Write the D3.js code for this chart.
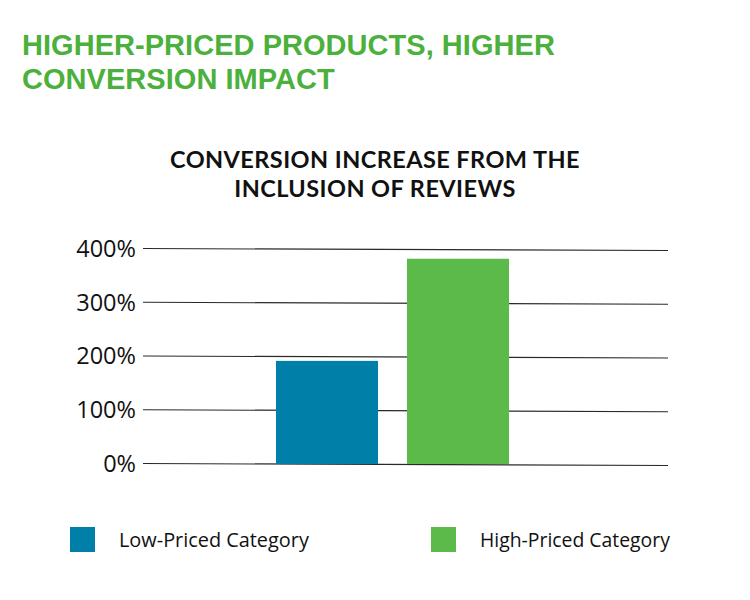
<!DOCTYPE html>
<html><head><meta charset="utf-8">
<script src="https://cdn.jsdelivr.net/npm/d3@7"></script>
<style>html,body{margin:0;padding:0;background:#fff;}svg{display:block;}</style>
</head><body>
<svg id="chart" width="750" height="600"></svg>
<script>
const titleLines = ["HIGHER-PRICED PRODUCTS, HIGHER", "CONVERSION IMPACT"];
const subtitleLines = ["CONVERSION INCREASE FROM THE", "INCLUSION OF REVIEWS"];
const categories = ["Low-Priced Category", "High-Priced Category"];
const values = [190, 380];
const colors = ["#0080a8", "#5bba4a"];
const yTicks = [0, 100, 200, 300, 400];

const svg = d3.select("#chart");
const W = 750, H = 600;
svg.append("rect").attr("width", W).attr("height", H).attr("fill", "#fff");

// spread letters so a text of fixed font size reaches a target width
function spread(sel, target) {
  const len = sel.node().getComputedTextLength();
  const n = sel.text().length;
  sel.attr("letter-spacing", ((target - len) / n).toFixed(2));
}
function fit(sel, target) {
  const len = sel.node().getComputedTextLength();
  const fs = parseFloat(sel.attr("font-size"));
  sel.attr("font-size", fs * target / len);
}

// Title (narrow bold face if present)
const titleFont = "'Liberation Sans Narrow', 'Liberation Sans', sans-serif";
const titleG = svg.append("g");
titleLines.forEach((t, i) => {
  const el = titleG.append("text").attr("x", 22).attr("y", 55 + i * 34).text(t)
    .attr("font-family", titleFont).attr("font-weight", 700).attr("font-size", 29)
    .attr("fill", "#4cb03c");
  if (i === 0) spread(el, 533);
});
const ls0 = titleG.select("text").attr("letter-spacing");
titleG.selectAll("text").attr("letter-spacing", ls0);

// Subtitle
const subFont = "Lato, 'Open Sans', sans-serif";
const subG = svg.append("g");
subtitleLines.forEach((t, i) => {
  const el = subG.append("text").attr("x", 375).attr("y", 168 + i * 29).attr("text-anchor", "middle").text(t)
    .attr("font-family", subFont).attr("font-weight", 700).attr("font-size", 23.5).attr("fill", "#111");
  if (i === 0) spread(el, 410);
});
subG.selectAll("text").attr("letter-spacing", subG.select("text").attr("letter-spacing"));

// Scales
const y = d3.scaleLinear().domain([0, 400]).range([463, 248]);
const x = d3.scaleBand().domain(categories).range([276, 509]).paddingInner(0.221).paddingOuter(0);

// Gridlines (slightly slanted as in the reference)
const gx0 = 143, gx1 = 668;
svg.append("g").selectAll("line").data(yTicks).join("line")
  .attr("x1", gx0).attr("x2", gx1)
  .attr("y1", d => y(d) + 0.5).attr("y2", d => y(d) + 2.5)
  .attr("stroke", "#2a2a2a").attr("stroke-width", 1.1);

// Y axis labels
const axis = svg.append("g").attr("transform", "translate(136,0)")
  .call(d3.axisLeft(y).tickValues(yTicks).tickSize(0).tickPadding(0).tickFormat(d => d + "%"));
axis.select(".domain").remove();
axis.selectAll("text").attr("font-family", "'Open Sans', sans-serif").attr("font-size", 23.5).attr("fill", "#111").attr("dy", "0.36em");

// Bars
svg.append("g").selectAll("rect").data(values).join("rect")
  .attr("x", (d, i) => x(categories[i]))
  .attr("width", x.bandwidth())
  .attr("y", d => y(d))
  .attr("height", d => y(0) - y(d) + 1)
  .attr("fill", (d, i) => colors[i]);

// Legend
const legX = [70, 431];
const leg = svg.append("g").selectAll("g").data(categories).join("g")
  .attr("transform", (d, i) => `translate(${legX[i]},527)`);
leg.append("rect").attr("width", 25).attr("height", 25).attr("fill", (d, i) => colors[i]);
leg.append("text").attr("x", 49).attr("y", 20).text(d => d)
  .attr("font-family", "'Open Sans', sans-serif").attr("font-size", 19).attr("fill", "#111");
leg.selectAll("text").each(function(d, i) { fit(d3.select(this), i === 0 ? 190 : 194); });
</script>
</body></html>
